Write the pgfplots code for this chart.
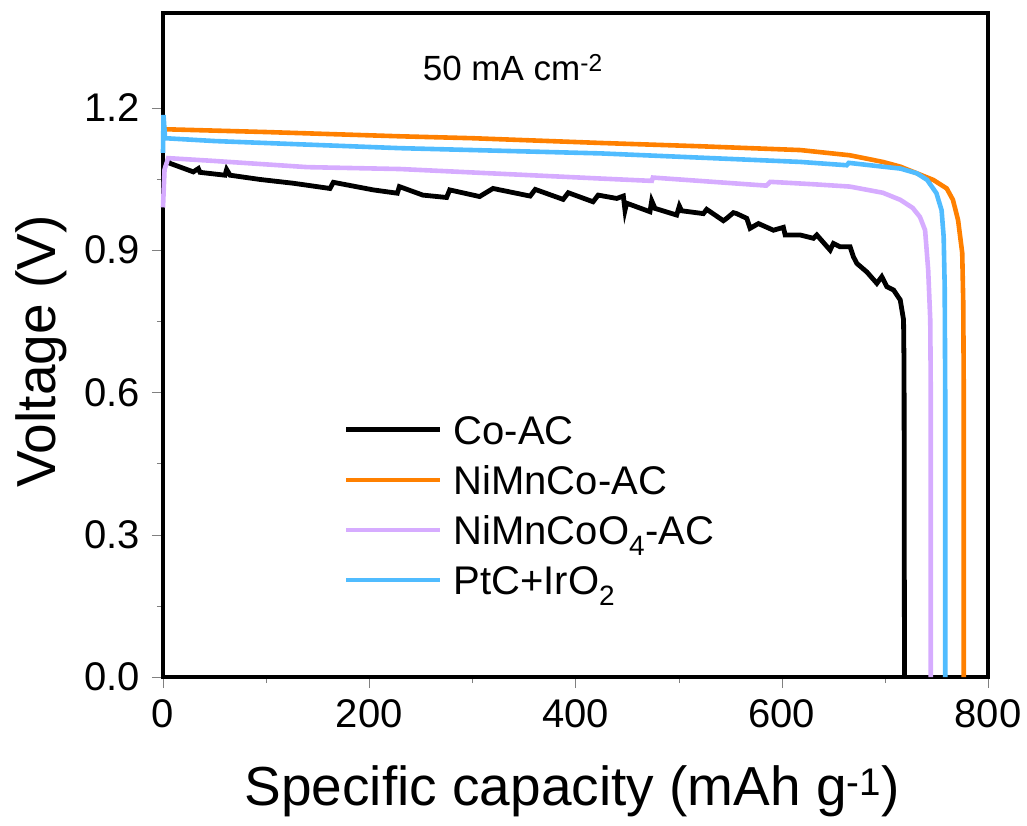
\documentclass[border=0pt]{standalone}
\usepackage{fontspec}
\setmainfont{Liberation Sans}
\usepackage{pgfplots}
\pgfplotsset{compat=1.18}
\definecolor{corange}{RGB}{255,128,0}
\definecolor{cblue}{RGB}{80,188,255}
\definecolor{cpurple}{RGB}{214,172,255}
\begin{document}
\begin{tikzpicture}
\begin{axis}[
  scale only axis,
  width=825pt, height=664pt,
  xmin=0, xmax=800, ymin=0, ymax=1.4,
  xtick={0,200,400,600,800},
  ytick={0,0.3,0.6,0.9,1.2},
  minor x tick num=1, minor y tick num=1,
  xtick pos=bottom, ytick pos=left,
  tick align=outside,
  major tick length=11pt, minor tick length=6pt,
  line width=3.6pt,
  /pgf/number format/assume math mode=true,
  yticklabel style={/pgf/number format/fixed, /pgf/number format/fixed zerofill, /pgf/number format/precision=1, xshift=-7pt},
  xticklabel style={yshift=-6pt},
  ticklabel style={font=\fontsize{40}{48}\selectfont},
  xlabel={Specific capacity (mAh g\textsuperscript{-1})},
  ylabel={Voltage (V)},
  label style={font=\fontsize{55}{66}\selectfont},
  xlabel style={at={(rel axis cs:0.496,0)}, anchor=base, yshift=-128pt},
  ylabel style={at={(rel axis cs:0,0.49)}, anchor=center, rotate=0},
  every axis y label/.append style={yshift=122pt},
  legend style={at={(rel axis cs:0.217,0.405)}, anchor=north west, draw=none, fill=none,
    inner sep=0pt, row sep=10pt, font=\fontsize{40}{48}\selectfont,
    nodes={inner sep=0pt, text height=35pt, text depth=5pt},
    /tikz/every odd column/.append style={column sep=11pt}},
  legend cell align=left,
  legend image code/.code={\draw[#1] (0pt,0pt) -- (94pt,0pt);},
  clip=false,
]
\addplot[black, line width=4.8pt] coordinates {
(5,1.088) (6.8,1.083) (29.4,1.065) (34.3,1.072) (35.9,1.064) (60.1,1.058) (61.7,1.070) (65,1.058)
(74.7,1.055) (94.1,1.049) (126.4,1.041) (161.9,1.030) (165.2,1.043) (203.9,1.027) (227.2,1.020)
(229.2,1.034) (252,1.016) (275,1.011) (278,1.027) (307,1.013) (320,1.030) (356,1.014) (361,1.028)
(388,1.007) (393,1.021) (417,1.002) (422,1.016) (440,1.009) (446.4,1.014) (448,0.984) (449.6,0.999)
(472.2,0.981) (473.9,1.004) (477.1,0.988) (498.1,0.974) (500.7,0.993) (502.9,0.983) (524,0.977)
(527.2,0.986) (543.4,0.962) (546.6,0.967) (553.1,0.979) (556.3,0.977) (566.1,0.967) (569.3,0.946)
(577.4,0.956) (591.9,0.942) (601.6,0.948) (603.3,0.932) (617.8,0.932) (630.7,0.925) (634,0.932)
(646.9,0.900) (650.1,0.914) (656.6,0.907) (666.3,0.907) (669.5,0.886) (672.8,0.872) (682.5,0.854)
(692.2,0.830) (697,0.844) (701.9,0.823) (708.4,0.816) (714.9,0.795) (718.1,0.753) (718.6,0.65) (719,0)
};
\addlegendentry{Co-AC}
\addplot[corange, line width=4.6pt] coordinates {
(0,1.155) (50,1.152) (100,1.149) (230,1.140) (300,1.136) (424,1.126) (521,1.119) (618,1.111)
(666,1.100) (698,1.086) (715,1.076) (731,1.062) (747,1.048) (760,1.030) (766,1.006) (771,0.963)
(775,0.894) (776,0.788) (776.5,0.6) (776.5,0)
};
\addlegendentry{NiMnCo-AC}
\addplot[cpurple, line width=4.6pt] coordinates {
(0,0.99) (1.5,1.07) (5,1.094) (50,1.088) (140,1.075) (230,1.071) (424,1.051) (474,1.046) (475,1.053)
(585,1.036) (589,1.044) (630,1.039) (666,1.034) (698,1.021) (715,1.006) (727,0.989) (734,0.970)
(739,0.942) (742,0.858) (744,0.753) (744.5,0.6) (744.5,0)
};
\addlegendentry{NiMnCoO\textsubscript{4}-AC}
\addplot[cblue, line width=4.6pt] coordinates {
(0,1.105) (0.5,1.185) (2,1.136) (50,1.130) (230,1.115) (424,1.104) (521,1.095) (618,1.086)
(663,1.079) (665,1.084) (698,1.076) (715,1.072) (731,1.062) (741,1.048) (750,1.020) (755,0.984)
(757,0.928) (758,0.823) (758.5,0.6) (758.5,0)
};
\addlegendentry{PtC+IrO\textsubscript{2}}
\node[anchor=base west, font=\fontsize{35}{42}\selectfont] at (axis cs:247,1.258) {50 mA cm\textsuperscript{-2}};
\coordinate (SW) at (rel axis cs:0,0);
\coordinate (NE) at (rel axis cs:1,1);
\end{axis}
\pgfresetboundingbox
\path ([xshift=-163pt,yshift=-149pt]SW) rectangle ([xshift=39pt,yshift=13pt]NE);
\end{tikzpicture}
\end{document}
